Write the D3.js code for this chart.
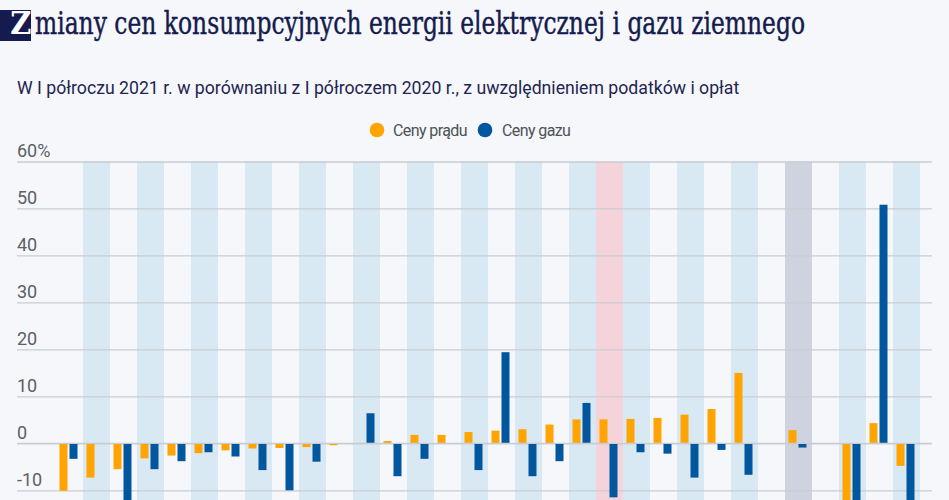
<!DOCTYPE html>
<html><head><meta charset="utf-8">
<script src="https://cdn.jsdelivr.net/npm/d3@7"></script>
<style>
html,body{margin:0;padding:0;background:#f5f7fa;overflow:hidden}
svg{display:block}
</style></head><body>
<svg id="c" width="949" height="500"></svg>
<script>
// ---- data ----
const categories = ["Kraj 1","Kraj 2","Kraj 3","Kraj 4","Kraj 5","Kraj 6","Kraj 7","Kraj 8","Kraj 9","Kraj 10",
  "Kraj 11","Kraj 12","Kraj 13","Kraj 14","Kraj 15","Kraj 16","Kraj 17","Kraj 18","Kraj 19","Kraj 20",
  "Polska","Kraj 22","Kraj 23","Kraj 24","Kraj 25","Kraj 26","—1","UE","—2","Kraj 30","Kraj 31","Kraj 32"];
const cenyPradu = [-10.1,-7.3,-5.5,-3.2,-2.6,-2.1,-1.5,-1.1,-1.0,-0.8,
  -0.4,0.1,0.5,1.8,1.8,2.4,2.7,3.0,4.0,5.1,
  5.1,5.2,5.4,6.1,7.3,15.0,null,2.8,null,-14.0,4.3,-4.8];
const cenyGazu = [-3.3,null,-15.0,-5.5,-3.8,-1.9,-2.8,-5.7,-10.0,-3.9,
  null,6.4,-7.0,-3.3,null,-5.7,19.4,-7.0,-3.8,8.6,
  -11.5,-1.9,-2.2,-7.3,-1.4,-6.7,null,-0.9,null,-14.0,50.8,-14.0];
const seriesNames = ["Ceny prądu","Ceny gazu"];
const yTicks = [-10,0,10,20,30,40,50,60];
const highlightPL = "Polska";
const highlightEU = "UE";
const titleText = "Zmiany cen konsumpcyjnych energii elektrycznej i gazu ziemnego";
const subtitleText = "W I półroczu 2021 r. w porównaniu z I półroczem 2020 r., z uwzględnieniem podatków i opłat";

// ---- styles ----
const C = {navy:"#151b4e", orange:"#ffa400", blue:"#00579d", grid:"#c9cdd3",
  band:"#d8e9f4", bandPL:"#f4d4da", bandEU:"#cfd3df", axis:"#5b5f66", legend:"#4e5258"};

const svg = d3.select("#c");
function fit(sel, target, base){ const w = sel.node().getComputedTextLength(); sel.attr("font-size", base*target/w); }

// title
svg.append("rect").attr("x",0).attr("y",10).attr("width",31).attr("height",31).attr("fill",C.navy);
svg.append("text").attr("transform","translate(31.5,33.5) scale(1,1.1)").attr("text-anchor","end")
  .attr("font-family","DejaVu Serif").attr("font-weight","bold").attr("font-size",29)
  .attr("fill","#fff").text(titleText[0]);
const tt = svg.append("text").attr("transform","translate(35,33.5) scale(1,1.18)")
  .attr("font-family","DejaVu Serif").attr("font-stretch","condensed").attr("font-size",24)
  .attr("fill",C.navy).attr("stroke",C.navy).attr("stroke-width",0.35).text(titleText.slice(1));
fit(tt, 770, 24);

const st = svg.append("text").attr("x",17).attr("y",94)
  .attr("font-family","Roboto").attr("font-size",17).attr("fill","#1f2552").text(subtitleText);
fit(st, 723, 17);

// scales
const x = d3.scaleBand().domain(categories).range([56,920]).paddingInner(0).paddingOuter(0);
const xs = d3.scaleBand().domain(seriesNames).range([3.5,21.5]).paddingInner(0.2);
const y = d3.scaleLinear().domain([-10,60]).range([490.3,161.5]);

// bands
svg.append("g").selectAll("rect").data(categories).join("rect")
  .attr("x",d=>x(d)).attr("y",y(60)).attr("width",x.bandwidth()).attr("height",500)
  .attr("fill",(d,i)=> d===highlightPL ? C.bandPL : d===highlightEU ? C.bandEU : (i%2===1 ? C.band : "none"));

// grid + axis labels
const gAxis = svg.append("g").attr("transform","translate(17,0)")
  .call(d3.axisRight(y).tickValues(yTicks).tickSize(915).tickFormat(d=> d===60 ? "60%" : String(d)));
gAxis.select(".domain").remove();
gAxis.selectAll(".tick line").attr("stroke",C.grid).attr("stroke-width",1.3);
gAxis.selectAll(".tick text").attr("x",0).attr("y",0).attr("dy",-5).attr("text-anchor","start")
  .attr("font-family","Roboto").attr("font-size",18).attr("fill",C.axis);

// bars
const rows = categories.map((c,i)=>({c, vals:[cenyPradu[i], cenyGazu[i]]}));
const gb = svg.append("g");
rows.forEach(r=>{
  r.vals.forEach((v,j)=>{
    if(v===null) return;
    gb.append("rect").attr("x",x(r.c)+xs(seriesNames[j])).attr("width",xs.bandwidth())
      .attr("y",y(Math.max(0,v))).attr("height",Math.abs(y(v)-y(0)))
      .attr("fill", j===0 ? C.orange : C.blue);
  });
});
// zero line on top
svg.append("line").attr("x1",17).attr("x2",932).attr("y1",y(0)).attr("y2",y(0))
  .attr("stroke",C.grid).attr("stroke-width",1.3);

// legend
const lg = svg.append("g");
const lItems = [{n:seriesNames[0],c:C.orange,cx:377,tx:393,w:75},{n:seriesNames[1],c:C.blue,cx:485,tx:502,w:71}];
lItems.forEach(it=>{
  lg.append("circle").attr("cx",it.cx).attr("cy",130).attr("r",7.3).attr("fill",it.c);
  const t = lg.append("text").attr("x",it.tx).attr("y",135.5).attr("font-family","Roboto")
    .attr("font-size",16).attr("letter-spacing",-0.6).attr("fill",C.legend).text(it.n);
});
</script></body></html>
